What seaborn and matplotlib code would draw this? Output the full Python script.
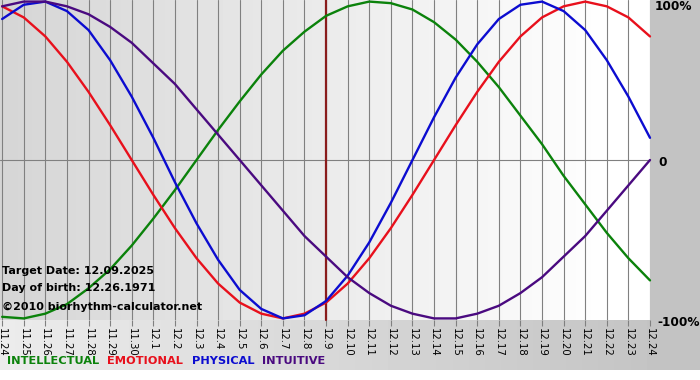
import numpy as np
import pandas as pd
import matplotlib
matplotlib.use("Agg")
import matplotlib.pyplot as plt
import seaborn as sns

# ---------------- data ----------------
dates = ["11.24", "11.25", "11.26", "11.27", "11.28", "11.29", "11.30",
         "12.1", "12.2", "12.3", "12.4", "12.5", "12.6", "12.7", "12.8",
         "12.9", "12.10", "12.11", "12.12", "12.13", "12.14", "12.15",
         "12.16", "12.17", "12.18", "12.19", "12.20", "12.21", "12.22",
         "12.23", "12.24"]

intellectual = [-0.99, -1.00, -0.97, -0.91, -0.81, -0.69, -0.54, -0.37, -0.19,
                0.00, 0.19, 0.37, 0.54, 0.69, 0.81, 0.91, 0.97, 1.00, 0.99,
                0.95, 0.87, 0.76, 0.62, 0.46, 0.28, 0.10, -0.10, -0.28, -0.46,
                -0.62, -0.76]
emotional = [0.97, 0.90, 0.78, 0.62, 0.43, 0.22, 0.00, -0.22, -0.43, -0.62,
             -0.78, -0.90, -0.97, -1.00, -0.97, -0.90, -0.78, -0.62, -0.43,
             -0.22, 0.00, 0.22, 0.43, 0.62, 0.78, 0.90, 0.97, 1.00, 0.97,
             0.90, 0.78]
physical = [0.89, 0.98, 1.00, 0.94, 0.82, 0.63, 0.40, 0.14, -0.14, -0.40,
            -0.63, -0.82, -0.94, -1.00, -0.98, -0.89, -0.73, -0.52, -0.27,
            0.00, 0.27, 0.52, 0.73, 0.89, 0.98, 1.00, 0.94, 0.82, 0.63,
            0.40, 0.14]
intuitive = [0.97, 1.00, 1.00, 0.97, 0.92, 0.84, 0.74, 0.61, 0.48, 0.32,
             0.16, 0.00, -0.16, -0.32, -0.48, -0.61, -0.74, -0.84, -0.92,
             -0.97, -1.00, -1.00, -0.97, -0.92, -0.84, -0.74, -0.61, -0.48,
             -0.32, -0.16, 0.00]

series_names = ["INTELLECTUAL", "EMOTIONAL", "PHYSICAL", "INTUITIVE"]
target_label = "12.9"
info_lines = ["Target Date: 12.09.2025", "Day of birth: 12.26.1971",
              "\u00a92010 biorhythm-calculator.net"]
right_labels = ["100%", "0", "-100%"]

colors = {"INTELLECTUAL": "#0b820b", "EMOTIONAL": "#e8101c",
          "PHYSICAL": "#0c0cd0", "INTUITIVE": "#4a0a80"}

# ---------------- figure ----------------
sns.set_style("white")
plt.rcParams['font.family'] = ['DejaVu Sans']

W, H = 700, 380
fig = plt.figure(figsize=(W / 100, H / 100), dpi=100)

# background (gradients)
bg = fig.add_axes([0, 0, 1, 1])
bg.set_axis_off()
img = np.full((H, W), 255.0)
px = 650   # plot right edge (px)
py = 320   # plot bottom edge (px)
cols = np.arange(px)
img[:py, :px] = np.clip(213 + (255 - 213) * cols / 620.0, 0, 255)[None, :]
img[py:370, :px] = (236 - (236 - 196) * cols / px)[None, :]
img[:370, px:] = 196
bg.imshow(img, cmap="gray", vmin=0, vmax=255, aspect="auto",
          interpolation="nearest", extent=[0, 1, 0, 1])
bg.set_xlim(0, 1)
bg.set_ylim(0, 1)

ax = fig.add_axes([0, 1 - py / H, px / W, py / H])
ax.set_facecolor("none")

x = np.arange(len(dates))
df = pd.DataFrame({
    "day": np.concatenate([x] * 4),
    "value": np.concatenate([intellectual, emotional, physical, intuitive]),
    "series": np.repeat(series_names, len(dates)),
})

ax.set_axisbelow(True)
ax.grid(True, axis="x", color="#808080", linewidth=0.8)
ax.grid(False, axis="y")
ax.axhline(0, color="#808080", linewidth=0.8, zorder=1)
ax.axvline(dates.index(target_label), color="#8a1c1c", linewidth=1.6, zorder=2)

sns.lineplot(data=df, x="day", y="value", hue="series", hue_order=series_names,
             palette=colors, linewidth=1.7, legend=False, ax=ax, zorder=3,
             sort=False)
for ln in ax.lines:
    ln.set_clip_on(False)
    ln.set_solid_joinstyle("round")

ax.set_xlim(-0.1, len(dates) - 1)
ax.set_ylim(-1.01, 1.01)
ax.set_xticks(x)
ax.set_xticklabels(dates, rotation=270, fontsize=7.3, color="black")
ax.tick_params(axis="x", length=4, color="#808080", pad=2, direction="out",
               bottom=True, labelcolor="black")
ax.set_yticks([])
ax.set_xlabel("")
ax.set_ylabel("")
sns.despine(ax=ax, left=True, bottom=True)


def ftext(xp, yp, s, **kw):
    fig.text(xp / W, 1 - yp / H, s, va="center", **kw)


ftext(655, 7, right_labels[0], fontsize=8.7, fontweight="bold", color="black")
ftext(658, 162, right_labels[1], fontsize=8.7, fontweight="bold", color="black")
ftext(657, 322, right_labels[2], fontsize=8.7, fontweight="bold", color="black")

for yy, s in zip([271, 288, 307], info_lines):
    ftext(2, yy, s, fontsize=8, fontweight="bold", color="black")

for xx, name in zip([7, 107, 192, 262], series_names):
    ftext(xx, 361, name, fontsize=8.2, fontweight="bold", color=colors[name])

fig.savefig("out.png", dpi=100)
